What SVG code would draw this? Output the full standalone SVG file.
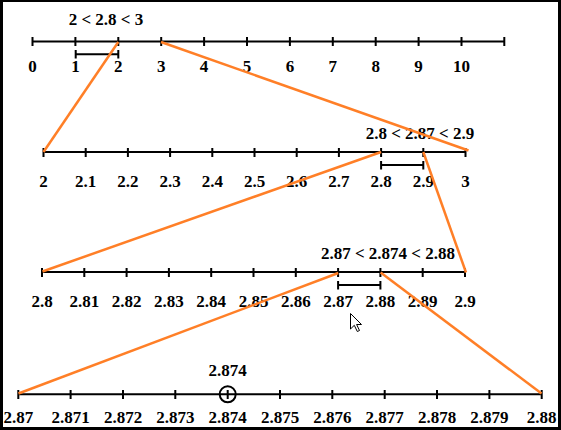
<svg xmlns="http://www.w3.org/2000/svg" width="561" height="430" viewBox="0 0 561 430">
<style>
.ax{stroke:#000;stroke-width:2;fill:none}
.tk{stroke:#000;stroke-width:2}
text{font-family:"Liberation Serif","Times New Roman",serif;font-weight:bold;font-size:17px;fill:#000;text-anchor:middle}
.cn{stroke:#ff7f27;stroke-width:2.5;fill:none}
</style>
<rect x="0" y="0" width="561" height="430" fill="#fff"/>
<g id="line1">
<line class="ax" x1="32.5" y1="41.5" x2="504.3" y2="41.5"/>
<path class="tk" d="M32.5 37v9M75.4 37v9M118.3 37v9M161.2 37v9M204.1 37v9M247 37v9M289.9 37v9M332.8 37v9M375.7 37v9M418.6 37v9M461.5 37v9M504.3 37v9"/>
<text x="32.5" y="72">0</text><text x="75.4" y="72">1</text><text x="118.3" y="72">2</text><text x="161.2" y="72">3</text><text x="204.1" y="72">4</text><text x="247" y="72">5</text><text x="289.9" y="72">6</text><text x="332.8" y="72">7</text><text x="375.7" y="72">8</text><text x="418.6" y="72">9</text><text x="461.5" y="72">10</text>
<text x="106" y="25">2 &lt; 2.8 &lt; 3</text>
<path class="ax" d="M75.7 54.3H118.3M75.7 50v8.5M118.3 50v8.5"/>
</g>
<g id="line2">
<line class="ax" x1="43.5" y1="152" x2="465.5" y2="152"/>
<path class="tk" d="M43.5 148v9M85.7 148v9M127.9 148v9M170.1 148v9M212.3 148v9M254.5 148v9M296.7 148v9M338.9 148v9M381.1 148v9M423.3 148v9M465.5 148v9"/>
<text x="43.5" y="187">2</text><text x="85.7" y="187">2.1</text><text x="127.9" y="187">2.2</text><text x="170.1" y="187">2.3</text><text x="212.3" y="187">2.4</text><text x="254.5" y="187">2.5</text><text x="296.7" y="187">2.6</text><text x="338.9" y="187">2.7</text><text x="381.1" y="187">2.8</text><text x="423.3" y="187">2.9</text><text x="465.5" y="187">3</text>
<text x="420" y="139">2.8 &lt; 2.87 &lt; 2.9</text>
<path class="ax" d="M381.1 165H423.3M381.1 161v8.5M423.3 161v8.5"/>
</g>
<g id="line3">
<line class="ax" x1="42" y1="272" x2="465" y2="272"/>
<path class="tk" d="M42 268v9M84.3 268v9M126.6 268v9M168.9 268v9M211.2 268v9M253.5 268v9M295.8 268v9M338.1 268v9M380.4 268v9M422.7 268v9M465 268v9"/>
<text x="42" y="307">2.8</text><text x="84.3" y="307">2.81</text><text x="126.6" y="307">2.82</text><text x="168.9" y="307">2.83</text><text x="211.2" y="307">2.84</text><text x="253.5" y="307">2.85</text><text x="295.8" y="307">2.86</text><text x="338.1" y="307">2.87</text><text x="380.4" y="307">2.88</text><text x="422.7" y="307">2.89</text><text x="465" y="307">2.9</text>
<text x="388" y="259">2.87 &lt; 2.874 &lt; 2.88</text>
<path class="ax" d="M338.1 285H380.4M338.1 281v8.5M380.4 281v8.5"/>
</g>
<g id="line4">
<line class="ax" x1="18.3" y1="394.3" x2="541.7" y2="394.3"/>
<path class="tk" d="M18.3 390v9M70.6 390v9M123 390v9M175.3 390v9M227.7 390v9M280 390v9M332.3 390v9M384.7 390v9M437 390v9M489.4 390v9M541.7 390v9"/>
<text x="18.3" y="423">2.87</text><text x="70.6" y="423">2.871</text><text x="123" y="423">2.872</text><text x="175.3" y="423">2.873</text><text x="227.7" y="423">2.874</text><text x="280" y="423">2.875</text><text x="332.3" y="423">2.876</text><text x="384.7" y="423">2.877</text><text x="437" y="423">2.878</text><text x="489.4" y="423">2.879</text><text x="541.7" y="423">2.88</text>
<text x="227.7" y="376">2.874</text>
<circle cx="227.7" cy="394.3" r="8" fill="none" stroke="#000" stroke-width="2"/>
</g>
<g id="connectors">
<line class="cn" x1="118.3" y1="42" x2="43.5" y2="152"/>
<line class="cn" x1="161" y1="42" x2="468.5" y2="150.5"/>
<line class="cn" x1="381.1" y1="152" x2="42.5" y2="271.5"/>
<line class="cn" x1="423.3" y1="152" x2="466" y2="272.5"/>
<line class="cn" x1="338.3" y1="273" x2="18.5" y2="393.5"/>
<line class="cn" x1="380.6" y1="272.5" x2="541.5" y2="393.5"/>
</g>
<g id="cursor">
<polygon points="350.5,313.5 350.5,329 354.3,325.3 357.3,331.5 359.5,330.5 356.6,324.5 361.5,324.5" fill="#fff" stroke="#000" stroke-width="1" stroke-linejoin="miter"/>
</g>
<g id="border" fill="#000">
<rect x="0" y="0" width="561" height="2"/>
<rect x="0" y="0" width="3" height="430"/>
<rect x="558" y="0" width="3" height="430"/>
<rect x="0" y="427" width="561" height="3"/>
</g>
</svg>
